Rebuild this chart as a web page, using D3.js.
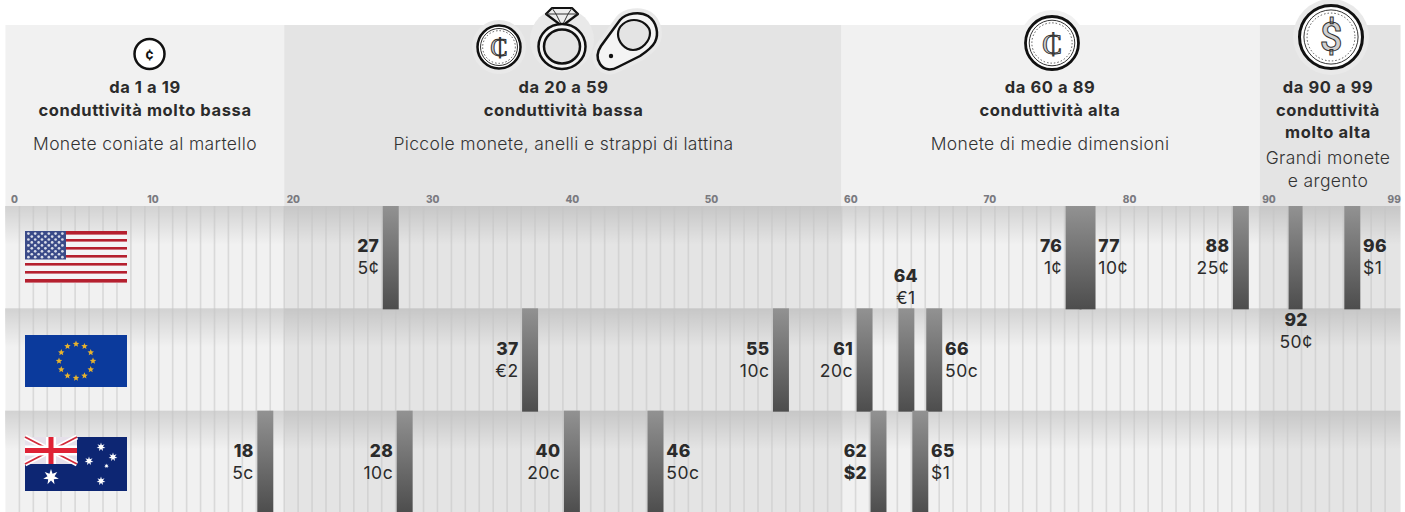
<!DOCTYPE html>
<html><head><meta charset="utf-8">
<script src="https://cdn.jsdelivr.net/npm/d3@7"></script>
<style>
html,body{margin:0;padding:0;background:#fff}
svg{display:block}
text{font-family:"Inter",sans-serif;fill:#2b2b2b}
.h{font-weight:700;font-size:16.5px;letter-spacing:.6px;text-anchor:middle}
.s{font-weight:300;font-size:17.5px;letter-spacing:.35px;text-anchor:middle;fill:#333}
.v{font-weight:800;font-size:17.5px;letter-spacing:.3px}
.c{font-weight:400;font-size:17.5px;letter-spacing:.5px}
.tick text{font-size:10px;font-weight:800;fill:#7a7a80;text-anchor:start}
</style></head><body><div id="c"></div>
<script>
const bandStarts=[0,20,60,90];
const bandEnds=[20,60,90,100];
const bandColors=["#f1f1f1","#e4e4e4","#f1f1f1","#e4e4e4"];
const bandHeads=[["da 1 a 19","conduttività molto bassa"],["da 20 a 59","conduttività bassa"],["da 60 a 89","conduttività alta"],["da 90 a 99","conduttività","molto alta"]];
const bandSubs=[["Monete coniate al martello"],["Piccole monete, anelli e strappi di lattina"],["Monete di medie dimensioni"],["Grandi monete","e argento"]];
const tickValues=[0,10,20,30,40,50,60,70,80,90,99];
const countries=["US","EU","AU"];
const usValues=[27,76,77,88,92,96];
const usCoins=["5¢","1¢","10¢","25¢","50¢","$1"];
const euValues=[37,55,61,64,66];
const euCoins=["€2","10c","20c","€1","50c"];
const auValues=[18,28,40,46,62,65];
const auCoins=["5c","10c","20c","50c","$2","$1"];
const usSides=["l","l","r","l","b","r"];
const euSides=["l","l","l","t","r"];
const auSides=["l","l","l","r","l","r"];
const boldCoins=["$2"];

const W=1405,H=512,plotTop=206;
const x=d3.scaleLinear().domain([0,100]).range([5.45,1399.05]);
const y=d3.scaleBand().domain(countries).range([plotTop,513]);
const svg=d3.select("#c").append("svg").attr("width",W).attr("height",H);
const defs=svg.append("defs");
const g1=defs.append("linearGradient").attr("id","bar").attr("x1",0).attr("x2",0).attr("y1",0).attr("y2",1);
g1.append("stop").attr("offset",0).attr("stop-color","#929292");
g1.append("stop").attr("offset",1).attr("stop-color","#4d4d4d");
const g2=defs.append("linearGradient").attr("id","shade").attr("x1",0).attr("x2",0).attr("y1",0).attr("y2",1);
g2.append("stop").attr("offset",0).attr("stop-color","#000").attr("stop-opacity",.13);
g2.append("stop").attr("offset",.38).attr("stop-color","#000").attr("stop-opacity",0);

// bands
bandStarts.forEach((s,i)=>{
  svg.append("rect").attr("x",x(s)).attr("y",25).attr("width",x(bandEnds[i])-x(s)+(i===3?1.5:0)).attr("height",H-25).attr("fill",bandColors[i]);
});
// row shading
svg.selectAll("rect.row").data(countries).join("rect").attr("class","row")
  .attr("x",5).attr("width",1395.5).attr("y",d=>y(d)).attr("height",y.bandwidth()).attr("fill","url(#shade)");
// grid
svg.append("g").selectAll("line").data(d3.range(1,100)).join("line")
  .attr("x1",d=>x(d)).attr("x2",d=>x(d)).attr("y1",plotTop).attr("y2",H)
  .attr("stroke","#c4c4c4").attr("stroke-opacity",.55).attr("stroke-width",1.6);
// axis
const ax=svg.append("g").attr("transform",`translate(0,${plotTop-3})`)
  .call(d3.axisTop(x).tickValues(tickValues).tickSize(0).tickPadding(0).tickFormat(d3.format("d")));
ax.select(".domain").remove();
ax.selectAll(".tick text").attr("x",d=>d===0?5:2);

// headings
const centers=[145,563.5,1050,1328];
bandHeads.forEach((ls,i)=>{
  ls.forEach((t,j)=>svg.append("text").attr("class","h").attr("x",centers[i]).attr("y",93+j*22.5).text(t));
  const sy=i===3?164:150;
  bandSubs[i].forEach((t,j)=>svg.append("text").attr("class","s").attr("x",centers[i]).attr("y",sy+j*23).text(t));
});

// bars
const rows=[[usValues,usCoins,usSides],[euValues,euCoins,euSides],[auValues,auCoins,auSides]];
const rowBase=[46,47,46];
rows.forEach((r,ri)=>{
  const c=countries[ri],g=svg.append("g");
  const data=r[0].map((v,i)=>({v,coin:r[1][i],side:r[2][i]}));
  g.selectAll("rect").data(data).join("rect")
    .attr("x",d=>x(d.v)+1).attr("width",d=>d.side==="b"?14:16)
    .attr("y",y(c)).attr("height",y.bandwidth()+(ri<2?1:0)).attr("fill","url(#bar)");
  const base=y(c)+rowBase[ri];
  data.forEach(d=>{
    let tx,anc,ty=base;
    if(d.side==="l"){tx=x(d.v)-2.5;anc="end";}
    else if(d.side==="r"){tx=x(d.v)+19.8;anc="start";}
    else if(d.side==="t"){tx=x(d.v)+8.5;anc="middle";ty=y(c)-26;}
    else {tx=x(d.v)+8.5;anc="middle";ty=y(c)+y.bandwidth()+18;}
    g.append("text").attr("class","v").attr("x",tx).attr("y",ty).attr("text-anchor",anc).text(d.v);
    g.append("text").attr("class",boldCoins.includes(d.coin)&&ri===2?"v":"c").attr("x",tx).attr("y",ty+22).attr("text-anchor",anc).text(d.coin);
  });
});

// flags
const fx=25,fw=102;
function us(){const g=svg.append("g"),fy=231,fh=52,sh=fh/13;
  g.append("rect").attr("x",fx).attr("y",fy).attr("width",fw).attr("height",fh).attr("fill","#f4f4f6");
  for(let i=0;i<13;i+=2)g.append("rect").attr("x",fx).attr("y",fy+i*sh).attr("width",fw).attr("height",sh*(i%12===0?.9:.65)).attr("fill","#b5202f");
  g.append("rect").attr("x",fx).attr("y",fy).attr("width",41).attr("height",28.5).attr("fill","#3a4a88");
  for(let r=0;r<9;r++){const n=r%2?5:6;for(let k=0;k<n;k++)
    g.append("circle").attr("cx",fx+3.4+(r%2?3.4:0)+k*6.8).attr("cy",fy+2.6+r*2.95).attr("r",1.35).attr("fill","#d8dce8");}
}
function star(g,cx,cy,r,fill,n=5){const p=[];for(let i=0;i<n*2;i++){const a=-Math.PI/2+i*Math.PI/n,q=i%2?r*.45:r;p.push([cx+q*Math.cos(a),cy+q*Math.sin(a)]);}
  g.append("polygon").attr("points",p.map(q=>q.join(",")).join(" ")).attr("fill",fill);}
function eu(){const g=svg.append("g"),fy=335,fh=52;
  g.append("rect").attr("x",fx).attr("y",fy).attr("width",fw).attr("height",fh).attr("fill","#0b3a9c");
  for(let i=0;i<12;i++){const a=i*Math.PI/6;star(g,76+17*Math.sin(a),361-17*Math.cos(a),3.4,"#e7b22d");}
}
function au(){const g=svg.append("g"),fy=437,fh=54;
  g.append("rect").attr("x",fx).attr("y",fy).attr("width",fw).attr("height",fh).attr("fill","#0d2673");
  const u=g.append("g");
  u.append("rect").attr("x",fx).attr("y",fy).attr("width",52).attr("height",27).attr("fill","#e6e0ea");
  [[fx,fy,fx+52,fy+27],[fx+52,fy,fx,fy+27]].forEach(l=>{
    u.append("line").attr("x1",l[0]).attr("y1",l[1]).attr("x2",l[2]).attr("y2",l[3]).attr("stroke","#fff").attr("stroke-width",5);
    u.append("line").attr("x1",l[0]).attr("y1",l[1]).attr("x2",l[2]).attr("y2",l[3]).attr("stroke","#d22a3a").attr("stroke-width",1.8);});
  u.append("rect").attr("x",fx+21).attr("y",fy).attr("width",10).attr("height",27).attr("fill","#fff");
  u.append("rect").attr("x",fx).attr("y",fy+8.5).attr("width",52).attr("height",10).attr("fill","#fff");
  u.append("rect").attr("x",fx+23.5).attr("y",fy).attr("width",5).attr("height",27).attr("fill","#df2235");
  u.append("rect").attr("x",fx).attr("y",fy+11).attr("width",52).attr("height",5).attr("fill","#df2235");
  star(g,51,477,8,"#fff",7);
  [[101,447,4.5],[113,457,4.5],[89,461,4.5],[106.500,466,2.4],[101,481,4.5]].forEach(s=>star(g,s[0],s[1],s[2],"#fff",7));
}
us();eu();au();

// icons
function halo(cx,cy,r,c){svg.append("circle").attr("cx",cx).attr("cy",cy).attr("r",r).attr("fill",c);}
function coin(cx,cy,r,sym,fs,outer,inner){
  const g=svg.append("g");
  g.append("circle").attr("cx",cx).attr("cy",cy).attr("r",r).attr("fill","#fff").attr("stroke","#111").attr("stroke-width",outer);
  if(inner){
    g.append("circle").attr("cx",cx).attr("cy",cy).attr("r",r*.86).attr("fill","none").attr("stroke","#333").attr("stroke-width",1);
    g.append("circle").attr("cx",cx).attr("cy",cy).attr("r",r*.76).attr("fill","none").attr("stroke","#555").attr("stroke-width",1).attr("stroke-dasharray","1.5 2");
  }
  g.append("text").attr("x",cx).attr("y",cy+fs*.36).attr("text-anchor","middle").attr("font-size",fs).attr("font-weight",inner?500:700)
   .style("font-family","Roboto").style("fill",inner?"#d0d0d0":"#111").attr("stroke",inner?"#333":"none").attr("stroke-width",inner?1:0).text(sym);
}
coin(149.500,54,15,"¢",15,2.5,false);
halo(499,47,27,"#e9e9e9");coin(499,47,21.500,"₵",26,2.5,true);
// ring
halo(562,40,32,"#e9e9e9");
svg.append("path").attr("d","M546,14 L552,8 L572,8 L578,14 L562,26 Z").attr("fill","#eee").attr("stroke","#111").attr("stroke-width",2.2).attr("stroke-linejoin","round");
svg.append("path").attr("d","M546,14 H578 M556,14 L562,26 L568,14 M552,8 L556,14 M572,8 L568,14").attr("fill","none").attr("stroke","#333").attr("stroke-width",1);
svg.append("ellipse").attr("cx",562).attr("cy",46.5).attr("rx",23.5).attr("ry",22.5).attr("fill","#f4f4f4").attr("stroke","#111").attr("stroke-width",2.5);
svg.append("ellipse").attr("cx",562).attr("cy",46.5).attr("rx",18).attr("ry",17).attr("fill","#e4e4e4").attr("stroke","#111").attr("stroke-width",2.5);
// pull tab
const tab="M600,64 C596,58 597,52 601,46 L620,20 C626,13 640,11 648,16 C657,22 659,34 655,42 C652,48 646,52 640,56 L618,67 C611,71 604,70 600,64 Z";
svg.append("path").attr("d",tab).attr("fill","#e9e9e9").attr("stroke","#e9e9e9").attr("stroke-width",10);
svg.append("path").attr("d",tab).attr("fill","#f4f4f4").attr("stroke","#111").attr("stroke-width",2.5);
svg.append("path").attr("d","M618,34 C618,26 626,20 634,20 C642,20 650,26 650,33 C650,41 642,50 633,50 C625,50 618,42 618,34 Z").attr("fill","#e4e4e4").attr("stroke","#111").attr("stroke-width",2.2);
svg.append("circle").attr("cx",611).attr("cy",56).attr("r",2.2).attr("fill","#111");
halo(1052,43,33,"#f1f1f1");coin(1052,43,26.500,"₵",30,2.8,true);
halo(1331,37,38,"#e9e9e9");coin(1331,37,31.500,"$",40,3,true);
</script></body></html>
